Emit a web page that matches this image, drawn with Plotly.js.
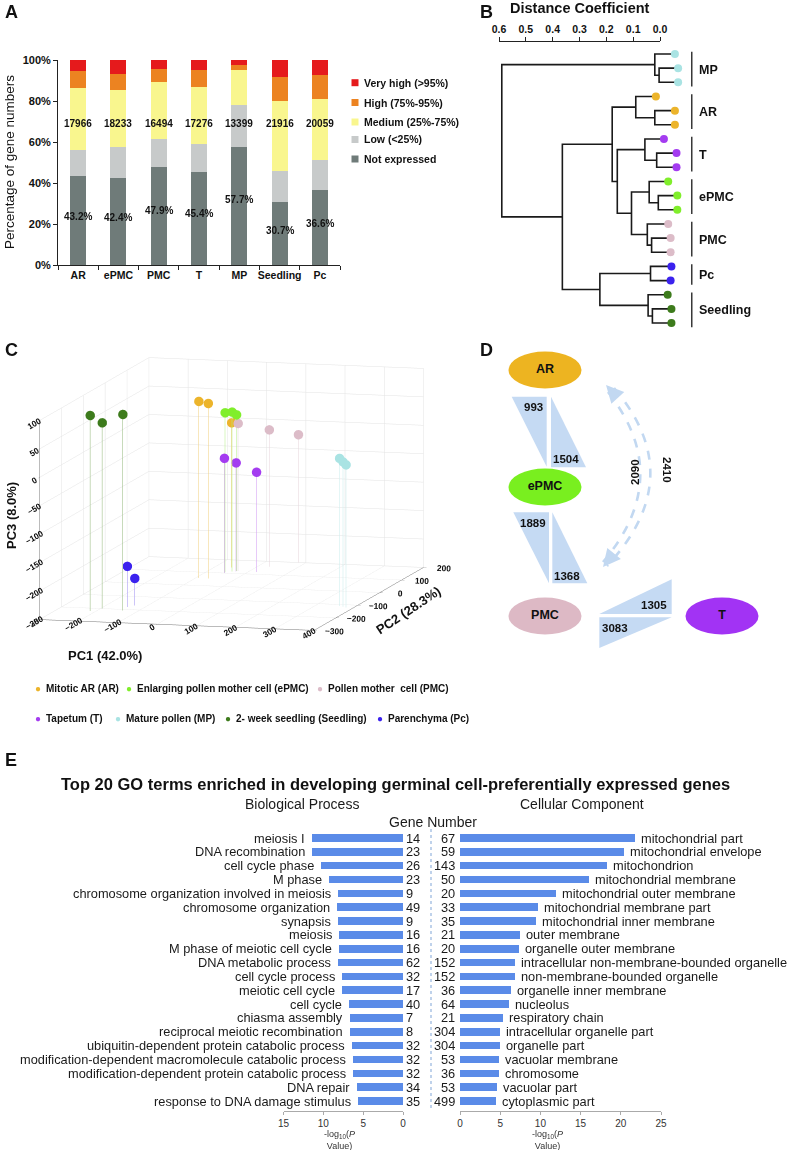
<!DOCTYPE html>
<html><head><meta charset="utf-8">
<script src="https://cdn.plot.ly/plotly-3.0.1.min.js"></script>
<style>html,body{margin:0;padding:0;background:#fff}#chart{width:788px;height:1150px}</style>
</head><body><div id="chart"></div>
<script>
// ================= DATA =================
// Panel A
const samplesA = ['AR','ePMC','PMC','T','MP','Seedling','Pc'];
const notExpressed = [43.2,42.4,47.9,45.4,57.7,30.7,36.6];
const lowPct      = [12.9,15.2,13.6,13.8,20.3,15.2,14.8];
const mediumPct   = [30.4,27.9,27.6,27.6,17.1,34.1,29.4];
const highPct     = [8.1,7.8,6.5,8.3,2.3,11.7,11.7];
const veryHighPct = [5.4,6.7,4.4,4.9,2.6,8.3,7.5];
const geneCounts  = [17966,18233,16494,17276,13399,21916,20059];
const levelNames  = ['Not expressed','Low (<25%)','Medium (25%-75%)','High (75%-95%)','Very high (>95%)'];
const yTicksA     = [0,20,40,60,80,100];

// Panel B (dendrogram)
const leafGroup = ['MP','MP','MP','AR','AR','AR','T','T','T','ePMC','ePMC','ePMC','PMC','PMC','PMC','Pc','Pc','Seedling','Seedling','Seedling'];
const leafDist  = [-0.056,-0.068,-0.068,0.015,-0.056,-0.056,-0.015,-0.062,-0.062,-0.031,-0.065,-0.065,-0.031,-0.040,-0.040,-0.043,-0.040,-0.029,-0.043,-0.043];
// merges: [childA, childB, distance]; new node ids start at 20
const merges = [
  [1,2,0.003],[0,20,0.019],[4,5,0.019],[3,22,0.090],[7,8,0.012],[6,24,0.056],
  [10,11,0.006],[9,26,0.040],[13,14,0.031],[12,28,0.047],[27,29,0.106],[25,30,0.159],
  [23,31,0.178],[15,16,0.035],[18,19,0.028],[17,34,0.044],[33,35,0.224],[32,36,0.364],[21,37,0.590]
];
const dendroGroups = ['MP','AR','T','ePMC','PMC','Pc','Seedling'];
const distTicks = [0,0.1,0.2,0.3,0.4,0.5,0.6];

// Panel C (PCA)
const pcaGroups = ['AR','ePMC','PMC','T','MP','Seedling','Pc'];
const pc1 = {AR:[-92,-68,-57], ePMC:[-53,-39,-31], PMC:[-27,29,81], T:[-52,-31,21], MP:[360,371,381], Seedling:[-215,-196,-139], Pc:[-142,-131]};
const pc2 = {AR:[55,55,142], ePMC:[105,112,118], PMC:[118,160,200], T:[100,116,116], MP:[-112,-116,-120], Seedling:[-221,-200,-208], Pc:[-182,-168]};
const pc3 = {AR:[61,58,5], ePMC:[31,31,25], PMC:[10,-9,-25], T:[-48,-59,-74], MP:[10,5,1], Seedling:[94,77,95], Pc:[-178,-202]};
const pcaAxisTitles = ['PC1 (42.0%)','PC2 (28.3%)','PC3 (8.0%)'];
const pcaLegend = ['Mitotic AR (AR)','Enlarging pollen mother cell (ePMC)','Pollen mother  cell (PMC)','Tapetum (T)','Mature pollen (MP)','2- week seedling (Seedling)','Parenchyma (Pc)'];
const pcaLegendKeys = ['AR','ePMC','PMC','T','MP','Seedling','Pc'];

// Panel D
const dNodes = ['AR','ePMC','PMC','T'];
const arVsEpmc = [993,1504];
const epmcVsPmc = [1889,1368];
const pmcVsT = [1305,3083];
const arVsPmc = [2090,2410];

// Panel E
const bpTerms = ['meiosis I','DNA recombination','cell cycle phase','M phase','chromosome organization involved in meiosis','chromosome organization','synapsis','meiosis','M phase of meiotic cell cycle','DNA metabolic process','cell cycle process','meiotic cell cycle','cell cycle','chiasma assembly','reciprocal meiotic recombination','ubiquitin-dependent protein catabolic process','modification-dependent macromolecule catabolic process','modification-dependent protein catabolic process','DNA repair','response to DNA damage stimulus'];
const bpLogP  = [11.4,11.4,10.3,9.3,8.2,8.3,8.2,8.0,8.0,8.1,7.7,7.6,6.8,6.6,6.6,6.4,6.3,6.3,5.8,5.7];
const bpGenes = [14,23,26,23,9,49,9,16,16,62,32,17,40,7,8,32,32,32,34,35];
const ccTerms = ['mitochondrial part','mitochondrial envelope','mitochondrion','mitochondrial membrane','mitochondrial outer membrane','mitochondrial membrane part','mitochondrial inner membrane','outer membrane','organelle outer membrane','intracellular non-membrane-bounded organelle','non-membrane-bounded organelle','organelle inner membrane','nucleolus','respiratory chain','intracellular organelle part','organelle part','vacuolar membrane','chromosome','vacuolar part','cytoplasmic part'];
const ccLogP  = [21.8,20.4,18.3,16.0,12.0,9.7,9.5,7.4,7.3,6.8,6.8,6.4,6.1,5.3,5.0,5.0,4.8,4.8,4.65,4.5];
const ccGenes = [67,59,143,50,20,33,35,21,20,152,152,36,64,21,304,304,53,36,53,499];

// ================= STYLE / LAYOUT =================
const W = 788, H = 1150;
const X = px => px / W, Y = py => 1 - py / H;
const FONT = 'Liberation Sans, Arial, sans-serif';
const levelColors = ['#6f7b79','#c7caca','#f9f68e','#ec8321','#e51a1c'];
const groupColor = {MP:'#a9e3e3', AR:'#ecb42b', T:'#a43cf0', ePMC:'#80ee2b', PMC:'#dcbcc8', Pc:'#3b22ee', Seedling:'#3d7b1c'};
const stemColor  = {MP:'#c9eeee', AR:'#f1cf7a', T:'#cf96f4', ePMC:'#b3ef83', PMC:'#e6d3da', Pc:'#9c8cf2', Seedling:'#8fb576'};
const bold = (s, c) => ({size: s, family: FONT, color: c || '#111', weight: 'bold'});

const traces = [];
const annotations = [];
const shapes = [];
const paperText = (px, py, text, font, extra) => annotations.push(Object.assign(
  {xref:'paper', yref:'paper', x:X(px), y:Y(py), xanchor:'center', yanchor:'middle', text, showarrow:false, font}, extra || {}));

// ---------- Panel A ----------
[notExpressed, lowPct, mediumPct, highPct, veryHighPct].forEach((ser, i) => {
  traces.push({type:'bar', x: samplesA, y: ser, name: levelNames[i], width: 0.4,
    marker:{color: levelColors[i], line:{width:0}}, xaxis:'x', yaxis:'y', showlegend:false, hoverinfo:'skip'});
});
samplesA.forEach((s, i) => {
  annotations.push({x: s, y: 69, xref:'x', yref:'y', xanchor:'center', yanchor:'middle', text: String(geneCounts[i]), showarrow:false, font: bold(10)});
  annotations.push({x: s, y: notExpressed[i] * 0.55, xref:'x', yref:'y', xanchor:'center', yanchor:'middle', text: notExpressed[i].toFixed(1) + '%', showarrow:false, font: bold(10)});
});
const legARows = [82.7, 102.5, 122, 139.5, 159];
['Very high (>95%)','High (75%-95%)','Medium (25%-75%)','Low (<25%)','Not expressed'].forEach((t, i) => {
  const py = legARows[i];
  shapes.push({type:'rect', xref:'paper', yref:'paper', x0:X(351.5), x1:X(358.5), y0:Y(py+3.5), y1:Y(py-3.5), fillcolor: levelColors[4-i], line:{width:0}});
  paperText(362, py, t, bold(10.5), {xanchor:'left'});
});
paperText(10, 162, 'Percentage of gene numbers', {size:13.5, family:FONT, color:'#111'}, {textangle:-90});

// ---------- Panel B ----------
const nodeX = leafDist.slice();
const nodeY = leafDist.map((_, i) => i);
const lx = [], ly = [];
merges.forEach(([a, b, h]) => {
  lx.push(nodeX[a], h, h, nodeX[b], null);
  ly.push(nodeY[a], nodeY[a], nodeY[b], nodeY[b], null);
  nodeX.push(h); nodeY.push((nodeY[a] + nodeY[b]) / 2);
});
traces.push({type:'scatter', mode:'lines', x: lx, y: ly, xaxis:'x2', yaxis:'y2', line:{color:'#1a1a1a', width:1.6}, showlegend:false, hoverinfo:'skip'});
traces.push({type:'scatter', mode:'markers', x: leafDist, y: leafDist.map((_, i) => i), xaxis:'x2', yaxis:'y2',
  marker:{size:8, color: leafGroup.map(g => groupColor[g])}, showlegend:false, hoverinfo:'skip', cliponaxis:false});
traces.push({type:'scatter', mode:'lines', x:[null], y:[null], xaxis:'x3', yaxis:'y2', showlegend:false, hoverinfo:'skip'});
const gbx = [], gby = [];
dendroGroups.forEach(g => {
  const idx = leafGroup.map((v, i) => v === g ? i : -1).filter(i => i >= 0);
  const s = Math.min(...idx), e = Math.max(...idx);
  gbx.push(-0.119, -0.119, null); gby.push(s - 0.15, e + 0.3, null);
  annotations.push({x:-0.138, y:(s + e) / 2 + 0.1, xref:'x2', yref:'y2', xanchor:'left', yanchor:'middle', text:g, showarrow:false, font: bold(12.5)});
});
traces.push({type:'scatter', mode:'lines', x: gbx, y: gby, xaxis:'x2', yaxis:'y2', line:{color:'#1a1a1a', width:1.3}, showlegend:false, hoverinfo:'skip'});
paperText(580, 8, 'Distance Coefficient', bold(14.5));

// ---------- Panel C ----------
pcaGroups.forEach(g => {
  traces.push({type:'scatter3d', mode:'markers', x: pc1[g], y: pc2[g], z: pc3[g], scene:'scene',
    marker:{size:5.5, color: groupColor[g], line:{width:0}, opacity:1},
    error_z:{type:'data', symmetric:false, array: pc3[g].map(() => 0), arrayminus: pc3[g].map(v => v + 250), color: stemColor[g], thickness:1.4, width:0},
    showlegend:false, hoverinfo:'skip'});
});
paperText(105, 655, pcaAxisTitles[0], bold(13));
paperText(408, 610, pcaAxisTitles[1], bold(13), {textangle:-34});
paperText(11, 516, pcaAxisTitles[2], bold(13), {textangle:-90});
const legCPos = [[38,688],[129,688],[320,688],[38,718],[118,718],[228,718],[380,718]];
pcaLegendKeys.forEach((g, i) => {
  const [px, py] = legCPos[i];
  paperText(px, py, '\u25CF', {size:10, family:FONT, color: groupColor[g]});
  paperText(px + 6, py, pcaLegend[i], bold(10), {xanchor:'left'});
});

// ---------- Panel D ----------
const dPos = {AR:[545,370], ePMC:[545,487], PMC:[545,616], T:[722,616]};
const dFill = {AR:'#edb421', ePMC:'#79ef1f', PMC:'#ddb9c5', T:'#a233f4'};
dNodes.forEach(n => {
  const [cx, cy] = dPos[n];
  shapes.push({type:'circle', xref:'x4', yref:'y4', x0:cx-36.5, x1:cx+36.5, y0:cy-18.5, y1:cy+18.5, fillcolor:dFill[n], line:{width:0}, layer:'below'});
});
traces.push({type:'scatter', mode:'text', x: dNodes.map(n => dPos[n][0]), y: dNodes.map(n => dPos[n][1]), text: dNodes,
  textfont: bold(12.5), xaxis:'x4', yaxis:'y4', showlegend:false, hoverinfo:'skip'});
const triFill = '#c5daf3';
const triPaths = [
  'M511.7,396.7 L546.7,396.7 L546.7,466.7 Z', 'M551,396.7 L551,467.3 L586,467.3 Z',
  'M513.3,512.3 L549,512.3 L549,583.3 Z', 'M552.3,512.3 L552.3,583.3 L587.3,583.3 Z',
  'M599.3,614 L671.7,579.3 L671.7,614 Z', 'M599.3,617.3 L671.7,617.3 L599.3,648 Z'
];
triPaths.forEach(p => shapes.push({type:'path', xref:'x4', yref:'y4', path:p, fillcolor:triFill, line:{width:0}, layer:'below'}));
const dLabels = [
  [arVsEpmc[0], 533, 407], [arVsEpmc[1], 566, 459], [epmcVsPmc[0], 533, 522.5], [epmcVsPmc[1], 567, 576],
  [pmcVsT[0], 654, 605], [pmcVsT[1], 615, 628]
];
dLabels.forEach(([v, x, y]) => annotations.push({x, y, xref:'x4', yref:'y4', xanchor:'center', yanchor:'middle', text:String(v), showarrow:false, font: bold(11.5)}));
shapes.push({type:'path', xref:'x4', yref:'y4', path:'M614,388 Q690,477 607,566', line:{color:'#c2d8f1', width:2.6, dash:'dash'}});
shapes.push({type:'path', xref:'x4', yref:'y4', path:'M608,392 Q675,477 603,562', line:{color:'#c2d8f1', width:2.6, dash:'dash'}});
annotations.push({x:606, y:385, ax:617, ay:397, xref:'x4', yref:'y4', axref:'x4', ayref:'y4', text:'', showarrow:true, arrowhead:2, arrowsize:1.4, arrowwidth:2.5, arrowcolor:'#c2d8f1'});
annotations.push({x:603, y:567, ax:612, ay:556, xref:'x4', yref:'y4', axref:'x4', ayref:'y4', text:'', showarrow:true, arrowhead:2, arrowsize:1.4, arrowwidth:2.5, arrowcolor:'#c2d8f1'});
annotations.push({x:635, y:472, xref:'x4', yref:'y4', xanchor:'center', yanchor:'middle', text:String(arVsPmc[0]), textangle:-90, showarrow:false, font: bold(11.5)});
annotations.push({x:667, y:470, xref:'x4', yref:'y4', xanchor:'center', yanchor:'middle', text:String(arVsPmc[1]), textangle:90, showarrow:false, font: bold(11.5)});

// ---------- Panel E ----------
const barBlue = '#5a8be8';
traces.push({type:'bar', orientation:'h', x: bpLogP, y: bpTerms, xaxis:'x5', yaxis:'y5', width:0.55, marker:{color:barBlue, line:{width:0}}, showlegend:false, hoverinfo:'skip'});
traces.push({type:'bar', orientation:'h', x: ccLogP, y: ccTerms, xaxis:'x6', yaxis:'y6', width:0.55, marker:{color:barBlue, line:{width:0}}, showlegend:false, hoverinfo:'skip'});
const eFont = {size:12.8, family:FONT, color:'#1a1a1a'};
bpTerms.forEach((t, i) => {
  annotations.push({x: bpLogP[i], y: t, xref:'x5', yref:'y5', xanchor:'right', yanchor:'middle', xshift:-5, text:t, showarrow:false, font:eFont});
  annotations.push({x: 0, y: t, xref:'x5', yref:'y5', xanchor:'left', yanchor:'middle', xshift:1, text:String(bpGenes[i]), showarrow:false, font:eFont});
});
ccTerms.forEach((t, i) => {
  annotations.push({x: ccLogP[i], y: t, xref:'x6', yref:'y6', xanchor:'left', yanchor:'middle', xshift:4, text:t, showarrow:false, font:eFont});
  annotations.push({x: 0, y: t, xref:'x6', yref:'y6', xanchor:'right', yanchor:'middle', xshift:-3, text:String(ccGenes[i]), showarrow:false, font:eFont});
});
shapes.push({type:'line', xref:'paper', yref:'paper', x0:X(431), x1:X(431), y0:Y(1108), y1:Y(828), line:{color:'#9dbbe0', width:1.3, dash:'dot'}});
paperText(302, 804, 'Biological Process', {size:14, family:FONT, color:'#1a1a1a'});
paperText(582, 804, 'Cellular Component', {size:14, family:FONT, color:'#1a1a1a'});
paperText(433, 822, 'Gene Number', {size:14, family:FONT, color:'#1a1a1a'});
[339, 547].forEach(px => paperText(px, 1140, '-log<sub>10</sub>(<i>P</i><br>Value)', {size:9, family:FONT, color:'#333'}));
paperText(395, 784, 'Top 20 GO terms enriched in developing germinal cell-preferentially expressed genes', bold(16.5));

// ---------- Panel letters ----------
[['A',3,12],['B',478,12],['C',3,350],['D',478,350],['E',3,760]].forEach(([t, px, py]) =>
  paperText(px, py, t, bold(18), {xanchor:'left'}));

// ================= LAYOUT =================
const tickAxisBase = {showgrid:false, zeroline:false, showline:true, linecolor:'#222', linewidth:1, ticks:'outside', ticklen:4, tickcolor:'#222'};
const eAxis = {showgrid:false, zeroline:false, showline:true, linecolor:'#aaa', ticks:'outside', ticklen:3, tickcolor:'#aaa', tickfont:{size:10, family:FONT, color:'#333'}, fixedrange:true};
const sceneAxis = (range, dtick) => ({
  title:{text:''}, range, dtick, autorange:false,
  tickfont:{size:10, family:FONT, color:'#111', weight:'bold'}, gridcolor:'#e3e3e3', gridwidth:1,
  showbackground:false, showline:true, linecolor:'#777', zeroline:false, showspikes:false, ticks:'outside', ticklen:3, tickcolor:'#777'
});

const layout = {
  width: W, height: H, margin:{l:0, r:0, t:0, b:0}, paper_bgcolor:'#fff', plot_bgcolor:'rgba(0,0,0,0)',
  font:{family:FONT, color:'#111'}, barmode:'stack', showlegend:false,
  // Panel A
  xaxis: Object.assign({}, tickAxisBase, {domain:[X(58), X(340)], anchor:'y', type:'category', tickson:'boundaries', tickangle:0, tickfont: bold(10.5), fixedrange:true}),
  yaxis: Object.assign({}, tickAxisBase, {domain:[Y(265), Y(60)], anchor:'x', range:[0,100], tickvals: yTicksA, ticktext: yTicksA.map(v => v + '%'), tickfont: bold(11), fixedrange:true}),
  // Panel B
  xaxis2: {domain:[X(490), 1], anchor:'y2', range:[0.634, -0.478], visible:false, fixedrange:true},
  yaxis2: {domain:[Y(330), Y(42)], anchor:'x2', range:[19.49, -0.847], visible:false, fixedrange:true},
  xaxis3: Object.assign({}, tickAxisBase, {domain:[X(499), X(660)], anchor:'y2', side:'top', range:[0.6, 0], tickvals: distTicks, tickformat:'.1f', tickfont: bold(10.5), fixedrange:true}),
  // Panel C
  scene: {
    domain:{x:[0, X(463)], y:[Y(659), Y(329)]},
    camera:{eye:{x:0.424, y:-1.62, z:0.255}, up:{x:0, y:0, z:1}, center:{x:0, y:0, z:0}, projection:{type:'orthographic'}},
    aspectmode:'manual', aspectratio:{x:1.72, y:2.62, z:1.22},
    xaxis: sceneAxis([-300,400], 100),
    yaxis: sceneAxis([-300,200], 100),
    zaxis: sceneAxis([-250,100], 50),
    bgcolor:'rgba(0,0,0,0)'
  },
  // Panel D
  xaxis4: {domain:[X(400), 1], anchor:'y4', range:[400, 788], visible:false, fixedrange:true},
  yaxis4: {domain:[Y(660), Y(300)], anchor:'x4', range:[660, 300], visible:false, fixedrange:true},
  // Panel E
  xaxis5: Object.assign({}, eAxis, {domain:[X(283.5), X(403)], anchor:'y5', range:[15, 0], tickvals:[0,5,10,15]}),
  yaxis5: {domain:[Y(1110.5), Y(828.5)], anchor:'x5', type:'category', categoryarray: bpTerms, categoryorder:'array', autorange:'reversed', visible:false, fixedrange:true},
  xaxis6: Object.assign({}, eAxis, {domain:[X(460), X(661)], anchor:'y6', range:[0, 25], tickvals:[0,5,10,15,20,25]}),
  yaxis6: {domain:[Y(1110.5), Y(828.5)], anchor:'x6', type:'category', categoryarray: ccTerms, categoryorder:'array', autorange:'reversed', visible:false, fixedrange:true},
  annotations, shapes
};

Plotly.newPlot('chart', traces, layout, {displayModeBar:false, responsive:false});
</script>
</body></html>
